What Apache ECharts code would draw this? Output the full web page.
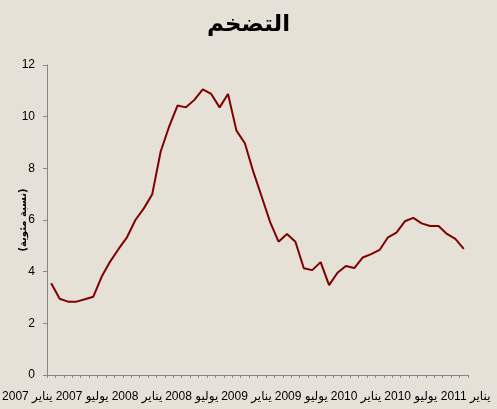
<!DOCTYPE html>
<html>
<head>
<meta charset="utf-8">
<script src="https://cdn.jsdelivr.net/npm/echarts@6/dist/echarts.min.js"></script>
<style>
html,body{margin:0;padding:0;background:#e5e1d6;}
#c{width:497px;height:409px;}
</style>
</head>
<body>
<div id="c"></div>
<script>
var chartTitle = 'التضخم';
var yAxisTitle = '(نسبة مئوية)';
// monthly categories Jan 2007 .. Feb 2011
var months = ['يناير','فبراير','مارس','أبريل','مايو','يونيو','يوليو','أغسطس','سبتمبر','أكتوبر','نوفمبر','ديسمبر'];
var categories = [];
for (var y = 2007; y <= 2011; y++) {
  for (var m = 0; m < 12; m++) {
    if (categories.length < 50) categories.push(months[m] + ' ' + y);
  }
}
var inflation = [3.55, 2.95, 2.84, 2.84, 2.93, 3.03, 3.81, 4.39, 4.88, 5.33,
                 6.0, 6.45, 7.0, 8.65, 9.61, 10.43, 10.36, 10.65, 11.06, 10.88,
                 10.36, 10.88, 9.46, 8.97, 7.87, 6.9, 5.92, 5.16, 5.46, 5.16,
                 4.13, 4.06, 4.37, 3.48, 3.96, 4.22, 4.14, 4.55, 4.68, 4.84,
                 5.33, 5.51, 5.95, 6.08, 5.87, 5.77, 5.77, 5.46, 5.27, 4.88];
var tickLabels = ['يناير 2007','يوليو 2007','يناير 2008','يوليو 2008','يناير 2009',
                  'يوليو 2009','يناير 2010','يوليو 2010','يناير 2011'];
var yTicks = [0, 2, 4, 6, 8, 10, 12];

var font = 'Liberation Sans, DejaVu Sans, sans-serif';
var chart = echarts.init(document.getElementById('c'));
chart.setOption({
  backgroundColor: '#e5e1d6',
  animation: false,
  title: {
    text: chartTitle, left: 'center', top: 9,
    textStyle: {fontFamily: 'DejaVu Sans', fontWeight: 'bold', fontSize: 23, color: '#000'}
  },
  grid: [
    {left: 47, right: 29, top: 65, bottom: 34, containLabel: false, outerBoundsMode: 'none'},
    {left: 0, right: 4, top: 65, bottom: 34, containLabel: false, outerBoundsMode: 'none'}
  ],
  xAxis: [
    {
      type: 'category', gridIndex: 0, data: categories, boundaryGap: true,
      axisLine: {lineStyle: {color: '#868686', width: 1}},
      axisTick: {show: true, interval: 0, length: 3, lineStyle: {color: '#868686'}},
      axisLabel: {show: false},
      splitLine: {show: false}
    },
    {
      type: 'category', gridIndex: 1, data: tickLabels, boundaryGap: true,
      axisLine: {show: false}, axisTick: {show: false},
      axisLabel: {show: true, interval: 0, margin: 16, fontSize: 12, color: '#000', fontFamily: font},
      splitLine: {show: false}
    }
  ],
  yAxis: [
    {
      type: 'value', gridIndex: 0, min: yTicks[0], max: yTicks[yTicks.length - 1], interval: 2,
      name: yAxisTitle, nameLocation: 'middle', nameGap: 19, nameRotate: 90, nameMoveOverlap: false,
      nameTextStyle: {fontFamily: 'DejaVu Sans', fontWeight: 'bold', fontSize: 10, color: '#000'},
      axisLine: {show: true, lineStyle: {color: '#868686', width: 1}},
      axisTick: {show: true, length: 4, lineStyle: {color: '#868686'}},
      axisLabel: {margin: 12, fontSize: 12, color: '#000', fontFamily: font},
      splitLine: {show: false}
    },
    {type: 'value', gridIndex: 1, show: false, min: 0, max: 12}
  ],
  series: [{
    type: 'line', xAxisIndex: 0, yAxisIndex: 0, data: inflation,
    showSymbol: false, symbol: 'none',
    lineStyle: {color: '#800000', width: 2},
    itemStyle: {color: '#800000'}
  }]
});
</script>
</body>
</html>
